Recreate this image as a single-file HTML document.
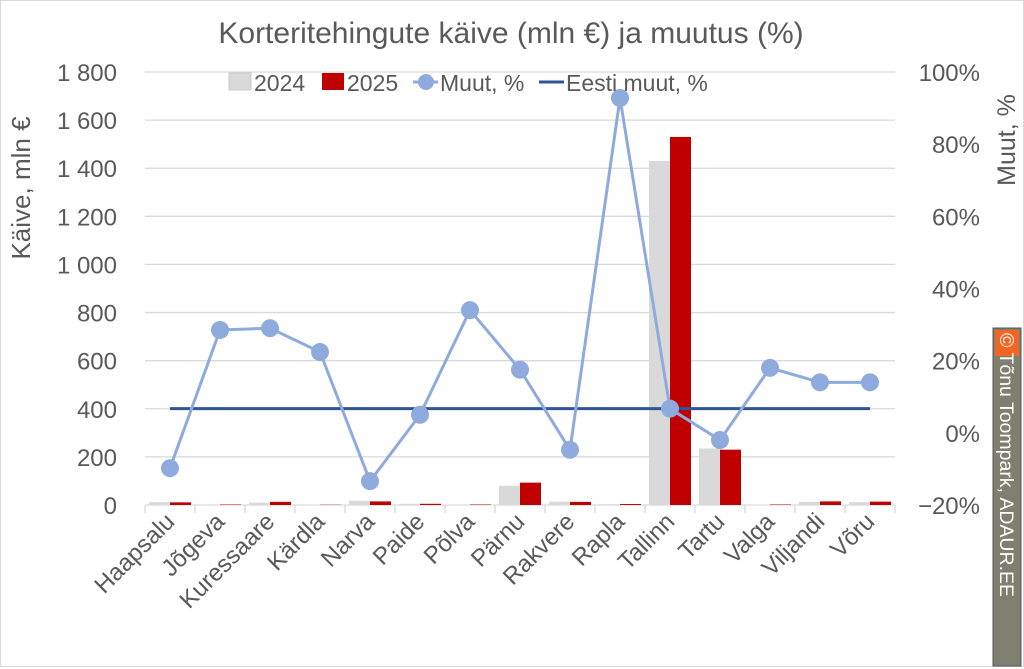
<!DOCTYPE html>
<html><head><meta charset="utf-8"><style>
body{margin:0;background:#fff}
svg{display:block;font-family:"Liberation Sans",sans-serif}
</style></head><body>
<svg id="c" width="1024" height="669" viewBox="0 0 1024 669">
<rect x="0.5" y="0.5" width="1023" height="666" fill="#fff" stroke="#d9d9d9"/>
<text x="511" y="43" text-anchor="middle" font-size="30" fill="#595959">Korteritehingute käive (mln €) ja muutus (%)</text>
<g id="grid"></g><g id="bars"></g><g id="axes"></g><g id="lines"></g>
<text transform="translate(30,188) rotate(-90)" text-anchor="middle" font-size="26" fill="#595959">Käive, mln €</text>
<text transform="translate(1015,140) rotate(-90)" text-anchor="middle" font-size="25" fill="#595959">Muut, %</text>
<g font-size="23" fill="#595959">
<g><rect x="229" y="73" width="22" height="17" fill="#d9d9d9" stroke="#c8c8c8"/><text x="254" y="91">2024</text></g>
<g><rect x="322" y="73" width="22" height="17" fill="#c00000"/><text x="347" y="91">2025</text></g>
<g><line x1="413" y1="82" x2="438" y2="82" stroke="#8faadc" stroke-width="3"/><circle cx="426" cy="82" r="8" fill="#8faadc"/><text x="440" y="91">Muut, %</text></g>
<g><line x1="539" y1="82" x2="564" y2="82" stroke="#2f5597" stroke-width="3"/><text x="566" y="91">Eesti muut, %</text></g>
</g>
<g>
<rect x="993" y="328" width="28" height="338" fill="#7f7f6f" stroke="#555" stroke-width="1"/>
<rect x="995" y="330" width="24" height="26" fill="#f26522"/>
<text transform="translate(1000,333) rotate(90)" font-size="19.5" fill="#fff">© Tõnu Toompark, ADAUR.EE</text>
</g>
</svg>
<script>
const categories=["Haapsalu","Jõgeva","Kuressaare","Kärdla","Narva","Paide","Põlva","Pärnu","Rakvere","Rapla","Tallinn","Tartu","Valga","Viljandi","Võru"];
const values2024=[12,2,10,1,18,5,2,80,14,3,1430,235,2,13,12];
const values2025=[11,2,13,1,15,5,2,93,13,4,1530,230,2,15,14];
const changePct=[-9.8,28.5,29,22.4,-13.4,5,34,17.5,-4.7,92.8,6.7,-2,18,14,14];
const estoniaPct=6.7;
const leftTicks=[0,200,400,600,800,1000,1200,1400,1600,1800];
const leftTickLabels=["0","200","400","600","800","1 000","1 200","1 400","1 600","1 800"];
const rightTicks=[-20,0,20,40,60,80,100];
const NS="http://www.w3.org/2000/svg";
const X0=145,X1=895,Y0=505,Y1=72;
const bw=(X1-X0)/categories.length;
const xc=i=>X0+bw*(i+0.5);
const yL=v=>Y0-(v/1800)*(Y0-Y1);
const yR=v=>Y0-((v+20)/120)*(Y0-Y1);
function mk(tag,attrs,parent){const e=document.createElementNS(NS,tag);for(const k in attrs)e.setAttribute(k,attrs[k]);document.getElementById(parent).appendChild(e);return e;}
leftTicks.forEach((t,i)=>{
 const g=mk('line',{x1:X0,x2:X1,y1:yL(t),y2:yL(t),stroke:'#d9d9d9','stroke-width':1.3},'grid');
 
 
 const tx=mk('text',{x:117,y:yL(t)+9,'text-anchor':'end','font-size':24,fill:'#595959'},'axes');
 tx.textContent=leftTickLabels[i];
 
 
});
rightTicks.forEach(t=>{
 const tx=mk('text',{x:980,y:yR(t)+9,'text-anchor':'end','font-size':24,fill:'#595959'},'axes');
 tx.textContent=(t<0?'−':'')+Math.abs(t)+'%';
 
 
});
for(let i=0;i<=categories.length;i++){
 const l=mk('line',{x1:X0+bw*i,x2:X0+bw*i,y1:Y0,y2:Y0+8,stroke:'#d9d9d9','stroke-width':1.3},'axes');
 
 
}
categories.forEach((c,i)=>{
 const x=xc(i);
 const b1=mk('rect',{x:x-21,y:yL(values2024[i]),width:21,height:Y0-yL(values2024[i]),fill:'#d9d9d9'},'bars');
 
 
 const b2=mk('rect',{x:x,y:yL(values2025[i]),width:21,height:Y0-yL(values2025[i]),fill:'#c00000'},'bars');
 
 
 const t=mk('text',{transform:`translate(${x+6},${Y0+18}) rotate(-45)`,'text-anchor':'end','font-size':24,fill:'#595959'},'axes');
 t.textContent=c;
 
 
});
const el=mk('line',{x1:xc(0),x2:xc(categories.length-1),y1:yR(estoniaPct),y2:yR(estoniaPct),stroke:'#2f5597','stroke-width':3},'lines');


const pl=mk('polyline',{points:changePct.map((v,i)=>xc(i)+','+yR(v)).join(' '),fill:'none',stroke:'#8faadc','stroke-width':3},'lines');


changePct.forEach((v,i)=>{
 const p=mk('circle',{cx:xc(i),cy:yR(v),r:9,fill:'#8faadc'},'lines');
 
 
});
</script>
</body></html>
